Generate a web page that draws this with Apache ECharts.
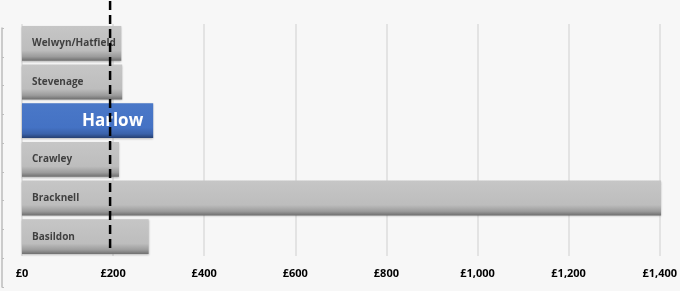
<!DOCTYPE html>
<html>
<head>
<meta charset="utf-8">
<script src="https://cdn.jsdelivr.net/npm/echarts@6/dist/echarts.min.js"></script>
<style>
  html, body { margin: 0; padding: 0; background: #f7f7f7; }
  #chart { width: 680px; height: 291px; }
</style>
</head>
<body>
<div id="chart"></div>
<script>
// towns, bottom to top as drawn
const towns = ['Basildon', 'Bracknell', 'Crawley', 'Harlow', 'Stevenage', 'Welwyn/Hatfield']
const costs = [278, 1403, 213, 288, 220, 218]
const highlight = 'Harlow'
const average = 193
const xTicks = [0, 200, 400, 600, 800, 1000, 1200, 1400]
// leftover axis at the left edge (no labels)
const edgeSlots = ['', '', '', '', '', '', '', '', '']

const grayBar = new echarts.graphic.LinearGradient(0, 0, 0, 1, [
  { offset: 0, color: '#c6c6c6' },
  { offset: 0.7, color: '#bdbdbd' },
  { offset: 0.88, color: '#9c9c9c' },
  { offset: 1, color: '#6f6f6f' }
])
const blueBar = new echarts.graphic.LinearGradient(0, 0, 0, 1, [
  { offset: 0, color: '#4a78c8' },
  { offset: 0.7, color: '#4472c4' },
  { offset: 0.88, color: '#3a62aa' },
  { offset: 1, color: '#263f70' }
])

const chart = echarts.init(document.getElementById('chart'))

chart.setOption({
  backgroundColor: '#f7f7f7',
  animation: false,
  grid: [
    { left: 22, right: 19, top: 24, bottom: 35 },
    { left: 22, right: 19, top: 0, bottom: 43 },
    { left: 2, width: 10, top: 28, bottom: 4 }
  ],
  xAxis: [{
    gridIndex: 0,
    type: 'value',
    min: xTicks[0],
    max: xTicks[xTicks.length - 1],
    interval: 200,
    axisLine: { show: false },
    axisTick: { show: false },
    splitLine: { lineStyle: { color: '#dcdcdc', width: 1.5 } },
    axisLabel: {
      margin: 12,
      fontFamily: 'Open Sans',
      fontWeight: 'bold',
      fontSize: 11,
      color: '#000',
      formatter: v => '£' + v.toLocaleString('en-GB')
    }
  }, {
    gridIndex: 1,
    type: 'value',
    min: xTicks[0],
    max: xTicks[xTicks.length - 1],
    show: false
  }, {
    gridIndex: 2,
    type: 'value',
    show: false
  }],
  yAxis: [{
    gridIndex: 0,
    type: 'category',
    data: towns,
    axisLine: { show: false },
    axisTick: { show: false },
    axisLabel: { show: false }
  }, {
    gridIndex: 1,
    type: 'value',
    min: 0,
    max: 1,
    show: false
  }, {
    gridIndex: 2,
    type: 'category',
    data: edgeSlots,
    position: 'left',
    axisLine: { show: true, lineStyle: { color: '#bdbdbd', width: 1.5 } },
    axisTick: { show: true, inside: true, length: 2, lineStyle: { color: '#bdbdbd' } },
    axisLabel: { show: false }
  }],
  series: [{
    type: 'bar',
    xAxisIndex: 0,
    yAxisIndex: 0,
    barCategoryGap: '10%',
    clip: false,
    data: costs.map((v, i) => {
      if (towns[i] === highlight) {
        return {
          value: v,
          itemStyle: { color: blueBar },
          label: {
            position: 'insideRight',
            distance: 10,
            fontSize: 17,
            color: '#ffffff'
          }
        }
      }
      return { value: v, itemStyle: { color: grayBar } }
    }),
    itemStyle: {
      shadowColor: 'rgba(0,0,0,0.25)',
      shadowBlur: 2,
      shadowOffsetX: 0,
      shadowOffsetY: 1
    },
    label: {
      show: true,
      position: 'insideLeft',
      distance: 10,
      formatter: p => p.name,
      fontFamily: 'Open Sans',
      fontWeight: 'bold',
      fontSize: 10,
      color: '#404040'
    }
  }, {
    type: 'line',
    xAxisIndex: 1,
    yAxisIndex: 1,
    symbol: 'none',
    data: [[average, 0], [average, 1]],
    lineStyle: { color: '#000', width: 2.5, type: [9, 5] },
    z: 5
  }]
})
</script>
</body>
</html>
